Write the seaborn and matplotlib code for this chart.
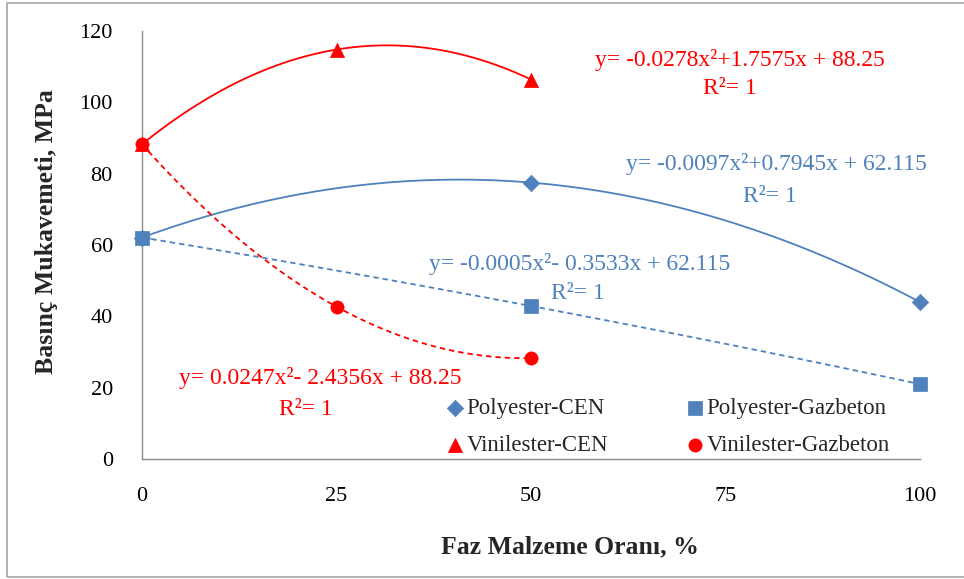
import numpy as np
import pandas as pd
import matplotlib
matplotlib.use("Agg")
import matplotlib.pyplot as plt
from matplotlib.patches import Rectangle
import seaborn as sns

# ---- data ----
series_names = ["Polyester-CEN", "Polyester-Gazbeton", "Vinilester-CEN", "Vinilester-Gazbeton"]
pcen_x = [0, 50, 100]
pcen_y = [62.1, 77.5, 44.0]
pgaz_x = [0, 50, 100]
pgaz_y = [62.1, 42.9, 21.0]
vcen_x = [0, 25, 50]
vcen_y = [88.25, 114.8, 106.4]
vgaz_x = [0, 25, 50]
vgaz_y = [88.25, 42.7, 28.3]
eq_texts = [
    "y= -0.0097x²+0.7945x + 62.115",
    "y= -0.0005x²- 0.3533x + 62.115",
    "y= -0.0278x²+1.7575x + 88.25",
    "y= 0.0247x²- 2.4356x + 88.25",
]
r2_text = "R²= 1"
x_ticks = [0, 25, 50, 75, 100]
y_ticks = [0, 20, 40, 60, 80, 100, 120]
x_label = "Faz Malzeme Oranı, %"
y_label = "Basınç Mukavemeti, MPa"

sns.set_style("white")
plt.rcParams["font.family"] = ["Liberation Serif", "DejaVu Serif"]

BLUE = "#4F81BD"
RED = "#FF0000"
GREY = "#8c8c8c"

fig = plt.figure(figsize=(9.64, 5.79), dpi=100)
ax = fig.add_axes([142/964, 1-459/579, (920-142)/964, (459-31)/579])

DASH = (0, (3.0, 2.2))
series = [
    (series_names[0], pcen_x, pcen_y, BLUE, "D", "-", 70),
    (series_names[1], pgaz_x, pgaz_y, BLUE, "s", DASH, 90),
    (series_names[2], vcen_x, vcen_y, RED, "^", "-", 105),
    (series_names[3], vgaz_x, vgaz_y, RED, "o", DASH, 90),
]

for name, xs, ys, col, mk, ls, sz in series:
    coef = np.polyfit(xs, ys, 2)
    xx = np.linspace(min(xs), max(xs), 200)
    df_fit = pd.DataFrame({"x": xx, "y": np.polyval(coef, xx)})
    sns.lineplot(data=df_fit, x="x", y="y", ax=ax, color=col, linewidth=1.3,
                 linestyle=ls, legend=False)
for name, xs, ys, col, mk, ls, sz in series:
    df = pd.DataFrame({"x": xs, "y": ys})
    sns.scatterplot(data=df, x="x", y="y", ax=ax, color=col, marker=mk, s=sz,
                    edgecolor=col, linewidth=0.5, label=name, zorder=5, clip_on=False)

ax.set_xlim(0, 100)
ax.set_ylim(0, 120)
ax.set_xticks(x_ticks)
ax.set_yticks(y_ticks)
ax.tick_params(axis="both", direction="out", length=7, width=1, color=GREY,
               labelsize=16, labelcolor="black")
ax.tick_params(axis="y", pad=14)
ax.tick_params(axis="x", pad=13)
for s in ["top", "right"]:
    ax.spines[s].set_visible(False)
for s in ["left", "bottom"]:
    ax.spines[s].set_color(GREY)
    ax.spines[s].set_linewidth(1)
ax.set_xlabel(x_label, fontsize=18.5, fontweight="bold")
ax.set_ylabel(y_label, fontsize=18.5, fontweight="bold")
ax.xaxis.set_label_coords((570-142)/778, -0.178)
ax.yaxis.set_label_coords(-0.108, (459-232)/428)

fs = 17
ax.text(76.9, 111.9, eq_texts[2], color=RED, fontsize=fs, ha="center", va="center")
ax.text(75.6, 104.0, r2_text, color=RED, fontsize=fs, ha="center", va="center")
ax.text(81.5, 82.7, eq_texts[0], color=BLUE, fontsize=fs, ha="center", va="center")
ax.text(80.7, 73.7, r2_text, color=BLUE, fontsize=fs, ha="center", va="center")
ax.text(56.2, 54.8, eq_texts[1], color=BLUE, fontsize=fs, ha="center", va="center")
ax.text(56.0, 46.3, r2_text, color=BLUE, fontsize=fs, ha="center", va="center")
ax.text(22.9, 22.8, eq_texts[3], color=RED, fontsize=fs, ha="center", va="center")
ax.text(21.0, 13.8, r2_text, color=RED, fontsize=fs, ha="center", va="center")

h, l = ax.get_legend_handles_labels()
order = [0, 2, 1, 3]
leg = ax.legend([h[i] for i in order], [l[i] for i in order], ncol=2, frameon=False,
                loc="upper left", bbox_to_anchor=(0.376, 0.165),
                fontsize=16.5, handletextpad=0.0, handlelength=1.0, columnspacing=3.3,
                labelspacing=0.7, borderaxespad=0)

fig.patches.append(Rectangle((7/964, 2/579), 1.0, (577-3)/579,
                             transform=fig.transFigure, fill=False,
                             edgecolor="#a6a6a6", linewidth=1.2, clip_on=False))

fig.savefig("out.png", dpi=100)
